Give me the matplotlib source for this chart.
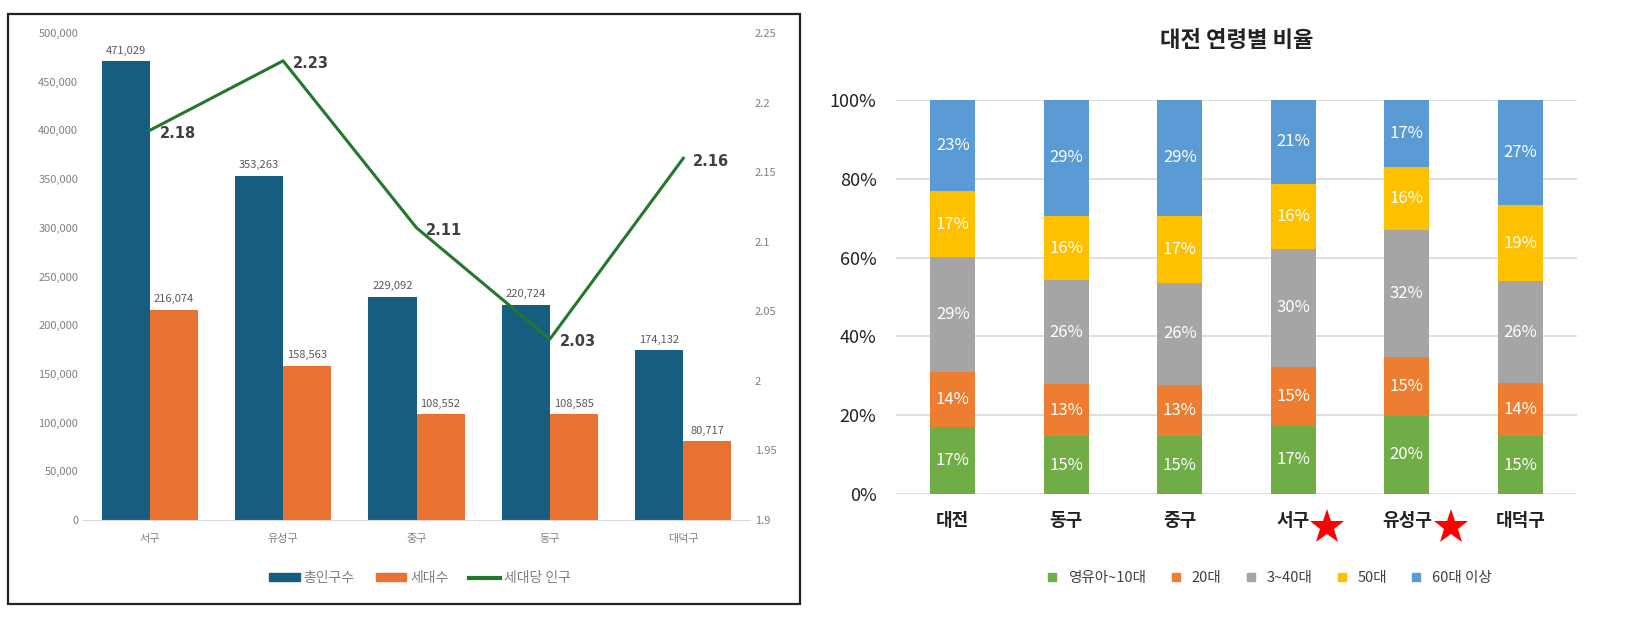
import numpy as np
import matplotlib
matplotlib.use("Agg")
import matplotlib.pyplot as plt
import matplotlib.transforms as mtransforms
from matplotlib.patches import Rectangle
from matplotlib.lines import Line2D

plt.rcParams['font.family'] = ['Noto Sans CJK KR', 'DejaVu Sans']

# ---------------- data: left chart ----------------
districts = ["서구", "유성구", "중구", "동구", "대덕구"]
population = [471029, 353263, 229092, 220724, 174132]
households = [216074, 158563, 108552, 108585, 80717]
per_household = [2.18, 2.23, 2.11, 2.03, 2.16]

# ---------------- data: right chart ----------------
regions = ["대전", "동구", "중구", "서구", "유성구", "대덕구"]
starred = ["서구", "유성구"]
age_groups = ["영유아~10대", "20대", "3~40대", "50대", "60대 이상"]
age_young = [17.0, 14.6, 14.6, 17.3, 19.8, 14.6]
age_20s = [14.0, 13.4, 13.1, 15.0, 14.9, 13.6]
age_3040 = [29.2, 26.2, 25.9, 30.0, 32.2, 25.8]
age_50s = [16.6, 16.4, 17.0, 16.4, 16.0, 19.4]
age_60plus = [23.2, 29.4, 29.4, 21.3, 17.1, 26.6]

W, H = 1646, 641
fig = plt.figure(figsize=(W / 100, H / 100), dpi=100)

def box(x0, y0, x1, y1):
    # pixel box -> figure fraction rect
    return [x0 / W, 1 - y1 / H, (x1 - x0) / W, (y1 - y0) / H]

# frame around left chart
fig.patches.append(Rectangle((8 / W, 1 - 604 / H), 792 / W, 590 / H,
                             transform=fig.transFigure, fill=False,
                             edgecolor="#222222", linewidth=1.6))

# ---------------- left chart ----------------
ax = fig.add_axes(box(83, 33, 750, 520))
x = np.arange(len(districts))
bw = 0.36
c_pop, c_hh, c_line = "#175d7f", "#e97132", "#23782b"
gray = "#808080"

b1 = ax.bar(x - bw / 2, population, bw, color=c_pop)
b2 = ax.bar(x + bw / 2, households, bw, color=c_hh)
for bars in (b1, b2):
    for r in bars:
        ax.annotate(f"{int(r.get_height()):,}", (r.get_x() + r.get_width() / 2, r.get_height()),
                    xytext=(0, 4), textcoords="offset points", ha="center", va="bottom",
                    fontsize=8, color="#595959")

ax.set_xlim(-0.5, len(districts) - 0.5)
ax.set_ylim(0, 500000)
ax.set_yticks(np.arange(0, 500001, 50000))
ax.set_yticklabels([f"{v:,}" for v in range(0, 500001, 50000)])
ax.set_xticks(x)
ax.set_xticklabels(districts)
ax.tick_params(axis="both", length=0, labelsize=8, colors=gray)
ax.tick_params(axis="x", pad=10)
for s in ("top", "right", "left"):
    ax.spines[s].set_visible(False)
ax.spines["bottom"].set_color("#d9d9d9")

ax2 = ax.twinx()
ax2.plot(x, per_household, color=c_line, linewidth=2.2)
for xi, v in zip(x, per_household):
    ax2.annotate(f"{v:.2f}", (xi, v), xytext=(7, -2), textcoords="offset points",
                 ha="left", va="center", fontsize=10.5, fontweight="bold", color="#404040",
                 family="DejaVu Sans")
ax2.set_ylim(1.9, 2.25)
ax2.set_yticks([1.9, 1.95, 2.0, 2.05, 2.1, 2.15, 2.2, 2.25])
ax2.set_yticklabels(["1.9", "1.95", "2", "2.05", "2.1", "2.15", "2.2", "2.25"])
ax2.tick_params(axis="y", length=0, labelsize=8, colors=gray)
for s in ax2.spines.values():
    s.set_visible(False)

h_left = [Rectangle((0, 0), 1, 1, color=c_pop), Rectangle((0, 0), 1, 1, color=c_hh),
          Line2D([0], [0], color=c_line, linewidth=3)]
fig.legend(h_left, ["총인구수", "세대수", "세대당 인구"], loc="center",
           bbox_to_anchor=(420 / W, 1 - 578 / H), ncol=3, frameon=False,
           fontsize=10, labelcolor=gray, handlelength=2.2, handleheight=0.5,
           columnspacing=1.5, handletextpad=0.3)

# ---------------- right chart ----------------
axr = fig.add_axes(box(896, 100, 1577, 494))
colors = ["#70ad47", "#ed7d31", "#a5a5a5", "#ffc000", "#5b9bd5"]
series = [age_young, age_20s, age_3040, age_50s, age_60plus]
xr = np.arange(len(regions))
totals = np.sum(series, axis=0)
bottom = np.zeros(len(regions))
for vals, col, name in zip(series, colors, age_groups):
    share = np.array(vals) / totals * 100
    axr.bar(xr, share, 0.4, bottom=bottom, color=col, label=name, zorder=3)
    for xi, b, s in zip(xr, bottom, share):
        axr.text(xi, b + s / 2, f"{round(s):.0f}%", ha="center", va="center",
                 color="white", fontsize=12, zorder=4)
    bottom += share

axr.set_xlim(-0.5, len(regions) - 0.5)
axr.set_ylim(0, 100)
axr.set_yticks(np.arange(0, 101, 20))
axr.set_yticklabels([f"{v}%" for v in range(0, 101, 20)])
axr.yaxis.grid(True, color="#d9d9d9", linewidth=1.2, zorder=0)
axr.set_xticks(xr)
axr.set_xticklabels(regions, fontweight="bold")
axr.tick_params(axis="y", length=0, labelsize=13, colors="#222222", pad=14)
axr.tick_params(axis="x", length=0, labelsize=13, colors="#222222", pad=12)
for s in axr.spines.values():
    s.set_visible(False)
axr.set_title("대전 연령별 비율", fontsize=16, fontweight="bold", color="#222222", pad=38)

trans = mtransforms.blended_transform_factory(axr.transData, axr.transAxes)
for name in starred:
    i = regions.index(name)
    axr.plot(i + 0.12 + 0.09 * len(name), -0.085, marker="*", color="#ff0000", markersize=26,
             transform=trans, clip_on=False, markeredgewidth=0)

h_right = [Line2D([0], [0], marker="s", linestyle="none", color=c, markersize=6) for c in colors]
fig.legend(h_right, age_groups, loc="center", bbox_to_anchor=(1265 / W, 1 - 578 / H),
           ncol=5, frameon=False, fontsize=10.5, labelcolor="#404040",
           handletextpad=0.1, columnspacing=1.0)

fig.savefig("out.png", dpi=100)
